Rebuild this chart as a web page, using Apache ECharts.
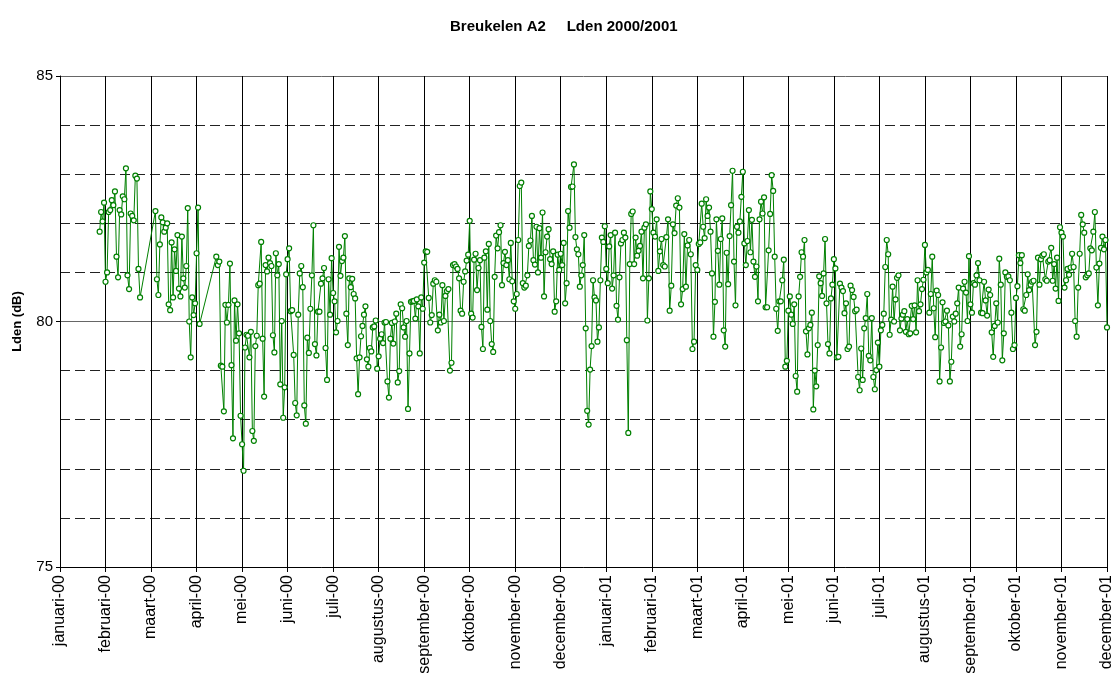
<!DOCTYPE html>
<html>
<head>
<meta charset="utf-8">
<script src="https://cdn.jsdelivr.net/npm/echarts@6/dist/echarts.min.js"></script>
<style>
  html, body { margin: 0; padding: 0; background: #ffffff; }
  #chart { width: 1111px; height: 673px; }
</style>
</head>
<body>
<div id="chart"></div>
<script>
// Month tick labels, one per month from januari-00 to december-01
const monthLabels = [
  'januari-00', 'februari-00', 'maart-00', 'april-00', 'mei-00', 'juni-00',
  'juli-00', 'augustus-00', 'september-00', 'oktober-00', 'november-00', 'december-00',
  'januari-01', 'februari-01', 'maart-01', 'april-01', 'mei-01', 'juni-01',
  'juli-01', 'augustus-01', 'september-01', 'oktober-01', 'november-01', 'december-01'
];

// Daily Lden values (dB); each block holds consecutive days from its start date
const block1Start = '2000-01-28';
const block1 = [81.83, 82.23, 82.04, 82.42, 80.81, 81.0, 82.23, 82.27, 82.47, 82.37,
  82.65, 81.32, 80.9, 82.27, 82.18, 82.55, 82.49, 83.12, 80.94, 80.66,
  82.2, 82.15, 82.06, 82.97, 82.91, 81.07, 80.49];

const block2Start = '2000-03-04';
const block2 = [82.25, 80.86, 80.54, 81.57, 82.12, 82.02, 81.83, 81.91, 82.0, 80.35,
  80.23, 81.61, 80.49, 81.47, 81.03, 81.76, 80.67, 80.51, 81.73, 80.88,
  80.69, 81.13, 82.31, 80.0, 79.27, 80.49, 80.13, 80.37, 81.39, 82.32, 79.95];

const block3Start = '2000-04-14';
const block3 = [
  81.32, 81.15, 81.22, 79.10, 79.08, 78.17, 80.34, 79.98, 80.34, 81.18,
  79.11, 77.62, 80.43, 79.61, 80.35, 79.76, 78.08, 77.50, 76.96, 79.47,
  79.73, 79.71, 79.27, 79.79, 77.77, 77.57, 79.50, 79.71, 80.74, 80.77,
  81.62, 79.65, 78.47, 81.15, 81.02, 81.30, 81.19, 81.13, 79.72, 79.37,
  81.39, 80.94, 81.17, 78.72, 80.01, 78.04, 78.66, 80.96, 81.27, 81.49,
  80.21, 80.23, 79.32, 78.34, 78.09, 80.14, 80.98, 81.13, 80.70, 78.29,
  77.92, 79.67, 79.36, 80.26, 80.94, 81.96, 79.54, 79.31, 80.20, 80.20,
  80.77, 80.88, 81.09, 79.46, 78.81, 80.86, 80.14, 81.29, 80.58, 80.41,
  79.78, 80.01, 81.52, 80.93, 81.23, 81.30, 81.74, 80.16, 79.52, 80.88,
  80.70, 80.87, 80.56, 80.47, 79.25, 78.52, 79.27, 79.70, 79.91, 80.14,
  80.31, 79.23, 79.08, 79.46, 79.39, 79.88, 79.90, 80.02, 79.04, 79.29,
  79.65, 79.74, 79.56, 79.98, 79.99, 78.78, 78.45, 79.65, 79.97, 79.55,
  80.0, 80.16, 78.76, 78.99, 80.35, 80.27, 79.88, 79.69, 80.01, 78.22,
  79.35, 80.40, 80.41, 80.42, 80.06, 80.45, 80.31, 79.35, 80.49, 80.26,
  81.20, 81.43, 81.42, 80.48, 79.98, 80.13, 80.77, 80.84, 80.81, 79.82,
  80.14, 79.98, 80.74, 80.01, 80.52, 80.62, 80.66, 79.0, 79.16, 81.15,
  81.17, 81.12, 81.07, 80.88, 80.22, 80.16, 80.81, 81.02, 81.24, 81.36,
  82.05, 80.16, 80.08, 81.26, 81.38, 80.64, 81.09, 81.25, 79.89, 79.44,
  81.30, 81.43, 80.24, 81.58, 80.01, 79.54, 79.38, 80.91, 81.75, 81.49,
  81.82, 81.96, 80.74, 81.19, 81.42, 81.15, 81.25, 80.86, 81.60, 80.82,
  80.41, 80.26, 80.56, 81.66, 82.76, 82.83, 80.78, 80.69, 80.73, 80.94,
  81.54, 81.65, 82.15, 81.25, 81.16, 81.93, 81.0, 81.90, 81.30, 82.22,
  80.51, 81.41, 81.73, 81.88, 81.27, 81.17, 81.43, 80.20, 80.41, 81.36,
  81.05, 81.38, 81.15, 81.60, 80.37, 80.78, 82.25, 81.91, 82.74, 82.75,
  83.20, 81.72, 81.47, 81.37, 80.71, 80.94, 81.15, 81.76, 79.86, 78.18,
  77.90, 79.02, 79.50, 80.84, 80.49, 80.43, 79.59, 79.88, 80.84, 81.71,
  81.62, 81.94
];

const block4Start = '2001-01-01';
const block4 = [
  81.07, 80.78, 81.53, 81.76, 80.67, 80.94, 81.81, 80.32,
  80.04, 80.90, 81.59, 81.66, 81.81, 81.71, 79.62, 77.73, 81.17, 82.19,
  82.24, 81.17, 81.71, 81.34, 81.44, 81.54, 81.83, 80.88, 81.91, 81.98,
  80.02, 80.88, 82.65, 82.29, 81.81, 81.73, 82.08, 81.03, 81.43, 81.68,
  81.15, 81.12, 81.72, 82.08, 80.22, 80.73, 81.98, 81.80, 82.36, 82.51,
  82.32, 80.35, 80.66, 81.78, 80.71, 81.55, 81.66, 81.37, 79.44, 79.59,
  81.15, 81.05, 81.58, 81.61, 82.40, 81.93, 81.70, 82.49, 82.15, 82.32,
  81.83, 80.98, 79.69, 80.40, 82.08, 81.44, 80.75, 81.68, 82.10, 79.82,
  79.49, 81.40, 80.76, 81.74, 82.37, 83.07, 81.22, 80.33, 81.93, 81.81,
  82.04, 82.54, 83.05, 81.59, 81.15, 81.64, 82.27, 81.41, 82.07, 81.22,
  80.91, 81.12, 80.41, 82.08, 82.44, 82.20, 82.53, 80.29, 80.29, 81.45,
  82.19, 82.98, 82.66, 81.32, 80.26, 79.81, 80.41, 80.41, 80.84, 81.26,
  79.08, 79.20, 80.22, 80.51, 80.14, 79.95, 80.35, 78.89, 78.57, 80.51,
  80.91, 81.41, 81.32, 81.66, 79.80, 79.33, 79.86, 79.93, 80.18, 78.21,
  79.0, 78.68, 79.52, 80.92, 80.78, 80.52, 80.98, 81.68, 80.37, 79.54,
  79.35, 80.47, 80.75, 81.27, 81.08, 79.27, 79.28, 80.77, 80.69, 80.62,
  80.17, 80.37, 79.44, 79.49, 80.73, 80.64, 80.50, 80.21, 80.24, 78.87,
  78.60, 79.45, 78.81, 79.86, 80.07, 80.56, 79.30, 79.21, 80.07, 78.87,
  78.62, 79.01, 79.57, 79.08, 79.82, 79.93, 80.16, 81.11, 81.66, 81.37,
  79.73, 80.04, 80.71, 80.0, 80.45, 80.89, 80.94, 79.82, 80.06,
  80.14, 80.21, 79.79, 80.05, 79.74, 79.76, 80.32, 80.05, 80.33,
  79.78, 80.84, 80.21, 80.35, 80.66, 80.85, 81.56, 81.0, 81.05, 80.18,
  80.56, 81.32, 80.27, 79.68, 80.63, 80.54, 78.78, 79.47, 80.39, 79.97,
  80.0, 80.22, 79.92, 78.78, 79.18, 80.10, 80.0, 80.16, 80.37, 80.69,
  79.49, 79.74, 80.67, 80.81, 80.59, 80.01, 81.33, 80.35, 80.18, 80.78,
  80.75, 80.94, 81.19, 80.84, 80.18, 80.17, 80.81, 80.43, 80.12, 80.65,
  80.54, 79.78, 79.28, 79.91, 80.37, 79.98, 81.28, 80.75, 79.21, 79.76,
  81.0, 80.91, 80.92, 80.84, 80.18, 79.44, 79.52, 80.48, 80.72, 81.35,
  81.19, 81.35, 80.25, 80.22, 80.54, 80.96, 80.64, 80.75, 80.81, 80.83,
  79.52, 79.79, 81.30, 80.75, 81.27, 81.34, 81.37, 80.86, 80.83, 81.22,
  81.25, 81.50, 80.83, 81.17, 80.67, 81.30, 80.42, 81.92, 81.81,
  81.73, 80.69, 80.84, 81.07, 80.95, 81.10, 81.38, 81.11, 80.01, 79.69,
  80.69, 81.38, 82.17, 81.98, 81.81, 80.90, 80.94, 80.98, 81.49, 81.45,
  81.83, 82.23, 81.10, 80.33, 81.18, 81.50, 81.73, 81.47, 81.66, 79.88
];

// Dashed reference levels between the labelled 5 dB steps
const dashedLevels = [76, 77, 78, 79, 81, 82, 83, 84];

// Position on the month axis: each month spans one unit, days spread evenly inside it
function monthPosition(date) {
  const y = date.getUTCFullYear();
  const m = date.getUTCMonth();
  const daysInMonth = new Date(Date.UTC(y, m + 1, 0)).getUTCDate();
  return (y - 2000) * 12 + m + (date.getUTCDate() - 1) / daysInMonth;
}

function blockPoints(start, values) {
  const t0 = Date.parse(start + 'T00:00:00Z');
  return values.map((v, i) => [monthPosition(new Date(t0 + i * 86400000)), v]);
}

const seriesData = [].concat(
  blockPoints(block1Start, block1),
  blockPoints(block2Start, block2),
  blockPoints(block3Start, block3),
  blockPoints(block4Start, block4)
);

const FONT = '"Liberation Sans", Arial, Helvetica, sans-serif';

// Colour per 1 dB gridline: hidden where a solid 5 dB line already sits
const dashColors = [];
for (let v = 75; v <= 85; v++) {
  dashColors.push(dashedLevels.includes(v) ? '#222222' : 'rgba(0,0,0,0)');
}

const chart = echarts.init(document.getElementById('chart'), null, { renderer: 'canvas' });

chart.setOption({
  animation: false,
  backgroundColor: '#ffffff',
  title: {
    text: 'Breukelen A2     Lden 2000/2001',
    left: 445,
    top: 14,
    textStyle: { fontFamily: FONT, fontSize: 15, fontWeight: 'bold', color: '#000' }
  },
  grid: { left: 60, right: 4, top: 76, bottom: 106, containLabel: false, outerBoundsMode: 'none' },
  xAxis: {
    type: 'value',
    min: 0,
    max: monthLabels.length - 1,
    interval: 1,
    axisLine: { show: true, onZero: false, lineStyle: { color: '#000', width: 1 } },
    axisTick: { show: true, length: 5, lineStyle: { color: '#000' } },
    splitLine: { show: true, lineStyle: { color: '#000', width: 1, type: 'solid' } },
    axisLabel: {
      rotate: 90,
      margin: 8,
      fontFamily: FONT,
      fontSize: 16,
      color: '#000',
      formatter: (v) => monthLabels[Math.round(v)] || ''
    }
  },
  yAxis: [
    {
      type: 'value',
      min: 75,
      max: 85,
      interval: 5,
      name: 'Lden (dB)',
      nameLocation: 'middle',
      nameRotate: 90,
      nameGap: 36,
      nameTextStyle: { fontFamily: FONT, fontSize: 13, fontWeight: 'bold', color: '#000' },
      axisLine: { show: true, lineStyle: { color: '#000', width: 1 } },
      axisTick: { show: true, length: 4, lineStyle: { color: '#000' } },
      axisLabel: { margin: 7, fontFamily: FONT, fontSize: 15, color: '#000' },
      splitLine: { show: true, lineStyle: { color: '#666', width: 1, type: 'solid' } }
    },
    {
      type: 'value',
      min: 75,
      max: 85,
      interval: 1,
      position: 'left',
      axisLine: { show: false },
      axisTick: { show: false },
      axisLabel: { show: false },
      splitLine: { show: true, lineStyle: { color: dashColors, width: 1, type: [10, 5] } }
    }
  ],
  series: [{
    type: 'line',
    yAxisIndex: 0,
    data: seriesData,
    symbol: 'circle',
    symbolSize: 5,
    showAllSymbol: true,
    itemStyle: { color: '#ffffff', borderColor: '#008000', borderWidth: 1.2 },
    lineStyle: { color: '#008000', width: 1 },
    emphasis: { disabled: true },
    z: 5
  }]
});
</script>
</body>
</html>
